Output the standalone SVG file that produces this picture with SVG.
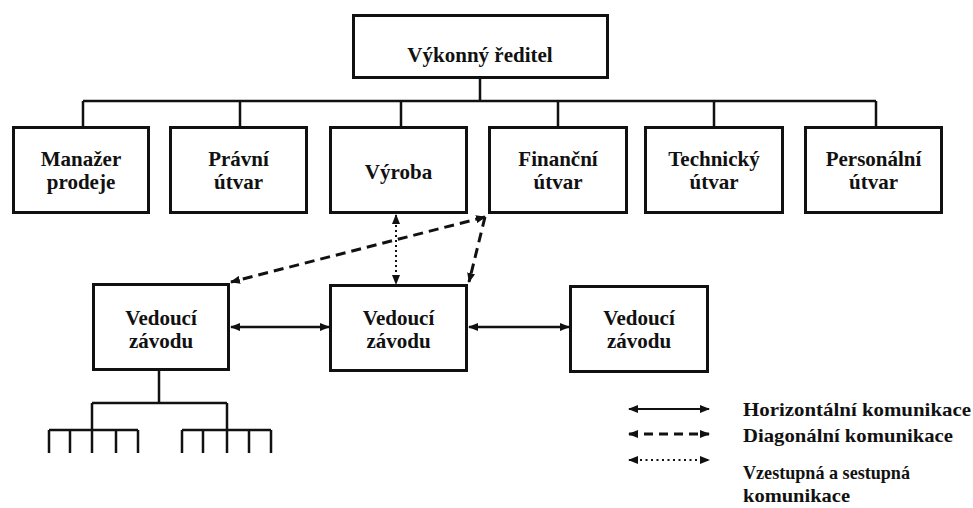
<svg xmlns="http://www.w3.org/2000/svg" width="973" height="508" viewBox="0 0 973 508">
<defs>
<style>
.box{fill:#fff;stroke:#111;stroke-width:3}
.t{font-family:'Liberation Serif','Times New Roman','DejaVu Serif',serif;font-weight:700;font-size:21px;fill:#111;text-anchor:middle}
.lg{font-family:'Liberation Serif','Times New Roman','DejaVu Serif',serif;font-weight:700;font-size:19.5px;fill:#111}
.ln{fill:none;stroke:#111;stroke-width:2.5}
.solid{fill:none;stroke:#111;stroke-width:2.5;marker-start:url(#ah);marker-end:url(#ah)}
.dash{fill:none;stroke:#111;stroke-width:3;stroke-dasharray:10 6}
.dot{fill:none;stroke:#111;stroke-width:2;stroke-dasharray:2 3;marker-start:url(#ah);marker-end:url(#ah)}
</style>
<marker id="ah" markerUnits="userSpaceOnUse" markerWidth="10" markerHeight="8" refX="9" refY="4" orient="auto-start-reverse">
<path d="M0,0 L10,4 L0,8 z" fill="#111"/>
</marker>
</defs>
<rect width="973" height="508" fill="#fff"/>

<g id="connectors">
<path class="ln" d="M480,79 V101 M83,101 H876 M83,101 V126 M240,101 V126 M401,101 V126 M558,101 V126 M714,101 V126 M876,101 V126"/>
<path class="ln" d="M159,371 V403 M92,403 H227 M92,403 V430 M227,403 V430 M49,430 H138 M182,430 H271 M49,430 V453 M70,430 V453 M92,430 V453 M116,430 V453 M138,430 V453 M182,430 V453 M203,430 V453 M227,430 V453 M249,430 V453 M271,430 V453"/>
<line class="solid" x1="231" y1="327" x2="329" y2="327"/>
<line class="solid" x1="469" y1="327" x2="569" y2="327"/>
<line class="dot" x1="396" y1="215" x2="396" y2="284"/>
<line class="dash" x1="485" y1="217" x2="231" y2="282" style="marker-start:url(#ah);marker-end:url(#ah)"/>
<line class="dash" x1="485" y1="217" x2="469" y2="282" style="marker-end:url(#ah)"/>
</g>

<g id="n-ceo"><rect class="box" x="353.5" y="15.5" width="254" height="62"/><text class="t" x="480" y="62">Výkonný ředitel</text></g>
<g id="n-sales"><rect class="box" x="13.5" y="127.5" width="135" height="85"/><text class="t" x="81" y="166">Manažer</text><text class="t" x="81" y="189">prodeje</text></g>
<g id="n-legal"><rect class="box" x="170.5" y="127.5" width="136" height="85"/><text class="t" x="238.5" y="166">Právní</text><text class="t" x="238.5" y="189">útvar</text></g>
<g id="n-prod"><rect class="box" x="330.5" y="127.5" width="136" height="85"/><text class="t" x="398.5" y="179">Výroba</text></g>
<g id="n-fin"><rect class="box" x="489.5" y="127.5" width="137" height="85"/><text class="t" x="558" y="166">Finanční</text><text class="t" x="558" y="189">útvar</text></g>
<g id="n-tech"><rect class="box" x="645.5" y="127.5" width="137" height="85"/><text class="t" x="714" y="166">Technický</text><text class="t" x="714" y="189">útvar</text></g>
<g id="n-hr"><rect class="box" x="805.5" y="127.5" width="136" height="85"/><text class="t" x="873.5" y="166">Personální</text><text class="t" x="873.5" y="189">útvar</text></g>

<g id="n-plant1"><rect class="box" x="93.5" y="284.5" width="135" height="85"/><text class="t" x="161" y="325">Vedoucí</text><text class="t" x="161" y="348">závodu</text></g>
<g id="n-plant2"><rect class="box" x="330.5" y="285.5" width="136" height="85"/><text class="t" x="398.5" y="325">Vedoucí</text><text class="t" x="398.5" y="348">závodu</text></g>
<g id="n-plant3"><rect class="box" x="570.5" y="286.5" width="137" height="85"/><text class="t" x="639" y="325">Vedoucí</text><text class="t" x="639" y="348">závodu</text></g>

<g id="legend">
<line x1="629" y1="409" x2="709" y2="409" stroke="#111" stroke-width="2" marker-start="url(#ah)" marker-end="url(#ah)"/>
<line x1="629" y1="434" x2="709" y2="434" stroke="#111" stroke-width="3" stroke-dasharray="9 6" marker-start="url(#ah)" marker-end="url(#ah)"/>
<line x1="629" y1="460" x2="709" y2="460" stroke="#111" stroke-width="2" stroke-dasharray="2 3.5" marker-start="url(#ah)" marker-end="url(#ah)"/>
<text class="lg" x="743" y="416" textLength="228" lengthAdjust="spacingAndGlyphs">Horizontální komunikace</text>
<text class="lg" x="743" y="442" textLength="210" lengthAdjust="spacingAndGlyphs">Diagonální komunikace</text>
<text class="lg" x="743" y="479" textLength="167" lengthAdjust="spacingAndGlyphs">Vzestupná a sestupná</text>
<text class="lg" x="743" y="502" textLength="107" lengthAdjust="spacingAndGlyphs">komunikace</text>
</g>
</svg>
